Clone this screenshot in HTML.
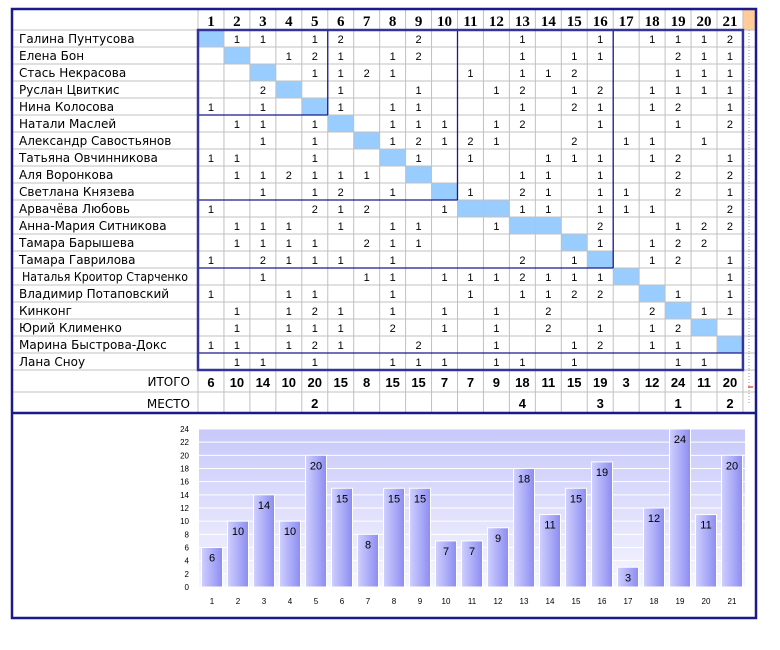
<!DOCTYPE html>
<html><head><meta charset="utf-8">
<style>
html,body{margin:0;padding:0;background:#fff;}
svg{display:block;}
.nm{font-family:"DejaVu Sans","Liberation Sans",sans-serif;font-size:12px;fill:#000;}
.hd{font-family:"Liberation Serif",serif;font-size:15px;font-weight:bold;fill:#000;}
.cv{font-family:"Liberation Sans",sans-serif;font-size:11px;fill:#000;}
.tt{font-family:"Liberation Sans",sans-serif;font-size:13px;font-weight:bold;fill:#000;}
.ax{font-family:"Liberation Sans",sans-serif;font-size:8px;fill:#000;}
.bl{font-family:"Liberation Sans",sans-serif;font-size:11px;fill:#000;}
</style></head>
<body>
<svg id="root" width="780" height="650" xmlns="http://www.w3.org/2000/svg">
<defs>
<linearGradient id="plotbg" x1="0" y1="0" x2="0" y2="1">
<stop offset="0" stop-color="#c8c8fa"/><stop offset="1" stop-color="#f6f6ff"/>
</linearGradient>
<linearGradient id="barg" x1="0" y1="0" x2="1" y2="0">
<stop offset="0" stop-color="#d0d0ff"/><stop offset="1" stop-color="#8c8cf2"/>
</linearGradient>
</defs>
<g id="table"></g>
<g id="chart"></g>
</svg>
<script>
const names=["Галина Пунтусова","Елена Бон","Стась Некрасова","Руслан Цвиткис","Нина Колосова","Натали Маслей","Александр Савостьянов","Татьяна Овчинникова","Аля Воронкова","Светлана Князева","Арвачёва Любовь","Анна-Мария Ситникова","Тамара Барышева","Тамара Гаврилова","Наталья Кроитор Старченко","Владимир Потаповский","Кинконг","Юрий Клименко","Марина Быстрова-Докс","Лана Сноу"];
const scores=[
{2:1,3:1,5:1,6:2,9:2,13:1,16:1,18:1,19:1,20:1,21:2},
{4:1,5:2,6:1,8:1,9:2,13:1,15:1,16:1,19:2,20:1,21:1},
{5:1,6:1,7:2,8:1,11:1,13:1,14:1,15:2,19:1,20:1,21:1},
{3:2,6:1,9:1,12:1,13:2,15:1,16:2,18:1,19:1,20:1,21:1},
{1:1,3:1,6:1,8:1,9:1,13:1,15:2,16:1,18:1,19:2,21:1},
{2:1,3:1,5:1,8:1,9:1,10:1,12:1,13:2,16:1,19:1,21:2},
{3:1,5:1,8:1,9:2,10:1,11:2,12:1,15:2,17:1,18:1,20:1},
{1:1,2:1,5:1,9:1,11:1,14:1,15:1,16:1,18:1,19:2,21:1},
{2:1,3:1,4:2,5:1,6:1,7:1,13:1,14:1,16:1,19:2,21:2},
{3:1,5:1,6:2,8:1,11:1,13:2,14:1,16:1,17:1,19:2,21:1},
{1:1,5:2,6:1,7:2,10:1,13:1,14:1,16:1,17:1,18:1,21:2},
{2:1,3:1,4:1,6:1,8:1,9:1,12:1,16:2,19:1,20:2,21:2},
{2:1,3:1,4:1,5:1,7:2,8:1,9:1,16:1,18:1,19:2,20:2},
{1:1,3:2,4:1,5:1,6:1,8:1,13:2,15:1,18:1,19:2,21:1},
{3:1,7:1,8:1,10:1,11:1,12:1,13:2,14:1,15:1,16:1,21:1},
{1:1,4:1,5:1,8:1,11:1,13:1,14:1,15:2,16:2,19:1,21:1},
{2:1,4:1,5:2,6:1,8:1,10:1,12:1,14:2,18:2,20:1,21:1},
{2:1,4:1,5:1,6:1,8:2,10:1,12:1,14:2,16:1,18:1,19:2},
{1:1,2:1,4:1,5:2,6:1,9:2,12:1,15:1,16:2,18:1,19:1},
{2:1,3:1,5:1,8:1,9:1,10:1,12:1,13:1,15:1,19:1,20:1}
];
const diag=[[1],[2],[3],[4],[5],[6],[7],[8],[9],[10],[11,12],[13,14],[15],[16],[17],[18],[19],[20],[21],[]];
const totals=[6,10,14,10,20,15,8,15,15,7,7,9,18,11,15,19,3,12,24,11,20];
const places={5:2,13:4,16:3,19:1,21:2};
const categories=["1","2","3","4","5","6","7","8","9","10","11","12","13","14","15","16","17","18","19","20","21"];
const yTicks=[0,2,4,6,8,10,12,14,16,18,20,22,24];

const NS="http://www.w3.org/2000/svg";
function mk(parent,tag,attrs,text){const e=document.createElementNS(NS,tag);for(const k in attrs)e.setAttribute(k,attrs[k]);if(text!==undefined)e.textContent=text;parent.appendChild(e);return e;}
const T=document.getElementById('table');
const X0=198,CW=25.95,Y0=30,RH=17;
const cx=c=>X0+(c-1)*CW;
const ry=r=>Y0+(r-1)*RH;
const GR="#c0c0c0";
diag.forEach((cols,ri)=>cols.forEach(c=>{
 const e=mk(T,'rect',{x:cx(c),y:ry(ri+1),width:CW,height:RH,fill:'#99ccff'});
 
 
}));
mk(T,'rect',{x:743,y:9,width:12,height:21,fill:'#ffcc99'});
for(let r=0;r<=22;r++){const y=r<=20?ry(r+1):(r==21?392:413);mk(T,'line',{x1:13,x2:755,y1:y,y2:y,stroke:GR,'stroke-width':1});}
for(let c=1;c<=22;c++){mk(T,'line',{x1:cx(c),x2:cx(c),y1:9,y2:413,stroke:GR,'stroke-width':1});}
for(let r=0;r<22;r++){const y=ry(r+1);mk(T,'line',{x1:749,x2:749,y1:y,y2:y+RH,stroke:'#999','stroke-dasharray':'1,2'});}
for(let c=1;c<=21;c++){const e=mk(T,'text',{x:cx(c)+CW/2,y:26,'text-anchor':'middle',class:'hd'},String(c));}
names.forEach((n,i)=>{
 const attrs={x:i==14?22:19,y:ry(i+1)+13,class:'nm'};
 if(i==14){attrs.textLength=166;attrs.lengthAdjust='spacingAndGlyphs';}
 const e=mk(T,'text',attrs,n);
 
 
 for(const c in scores[i]){
  const t=mk(T,'text',{x:cx(+c)+CW/2,y:ry(i+1)+13,'text-anchor':'middle',class:'cv'},String(scores[i][c]));
  
  
 }
});
let e1=mk(T,'text',{x:190,y:386,'text-anchor':'end',class:'nm'},'ИТОГО');

let e2=mk(T,'text',{x:190,y:408,'text-anchor':'end',class:'nm'},'МЕСТО');

totals.forEach((v,i)=>{const t=mk(T,'text',{x:cx(i+1)+CW/2,y:387,'text-anchor':'middle',class:'tt'},String(v));});
for(const c in places){const t=mk(T,'text',{x:cx(+c)+CW/2,y:408,'text-anchor':'middle',class:'tt'},String(places[c]));}
mk(T,'line',{x1:748,x2:753,y1:387,y2:387,stroke:'#e00','stroke-width':1});
const NV="#1a1a8c";
const L=(x1,y1,x2,y2,w)=>mk(T,'line',{x1,y1,x2,y2,stroke:NV,'stroke-width':w||1.3});
L(cx(1),ry(6),cx(6),ry(6));L(cx(6),ry(1),cx(6),ry(6));
L(cx(1),ry(11),cx(11),ry(11));L(cx(11),ry(1),cx(11),ry(11));
L(cx(1),ry(15),cx(17),ry(15));L(cx(17),ry(1),cx(17),ry(15));
L(cx(1),ry(20),cx(22),ry(20));
mk(T,'rect',{x:cx(1),y:ry(1),width:cx(22)-cx(1),height:ry(21)-ry(1),fill:'none',stroke:'#333399','stroke-width':2.5});
mk(T,'rect',{x:12,y:9,width:744,height:609,fill:'none',stroke:NV,'stroke-width':2.5});
mk(T,'line',{x1:12,x2:756,y1:413,y2:413,stroke:NV,'stroke-width':2.5});

const C=document.getElementById('chart');
const PX0=199,PX1=745,PY0=587,PY1=429,YMAX=24;
const ys=v=>PY0-v*(PY0-PY1)/YMAX;
const bw=(PX1-PX0)/categories.length;
const xs=i=>PX0+i*bw;
mk(C,'rect',{x:PX0,y:PY1,width:PX1-PX0,height:PY0-PY1,fill:'url(#plotbg)'});
yTicks.forEach(v=>{
 mk(C,'line',{x1:PX0,x2:PX1,y1:ys(v),y2:ys(v),stroke:'#fff','stroke-width':1});
 const t=mk(C,'text',{x:189,y:ys(v)+3,'text-anchor':'end',class:'ax'},String(v));
 
 
});
totals.forEach((v,i)=>{
 const b=mk(C,'rect',{x:xs(i)+2.5,y:ys(v),width:bw-5,height:PY0-ys(v),fill:'url(#barg)',stroke:'#fff','stroke-width':1});
 
 
 const t=mk(C,'text',{x:xs(i)+bw/2,y:ys(v)+14,'text-anchor':'middle',class:'bl'},String(v));
 
 
 const xl=mk(C,'text',{x:xs(i)+bw/2,y:604,'text-anchor':'middle',class:'ax'},categories[i]);
 
 
});
</script>
</body></html>
